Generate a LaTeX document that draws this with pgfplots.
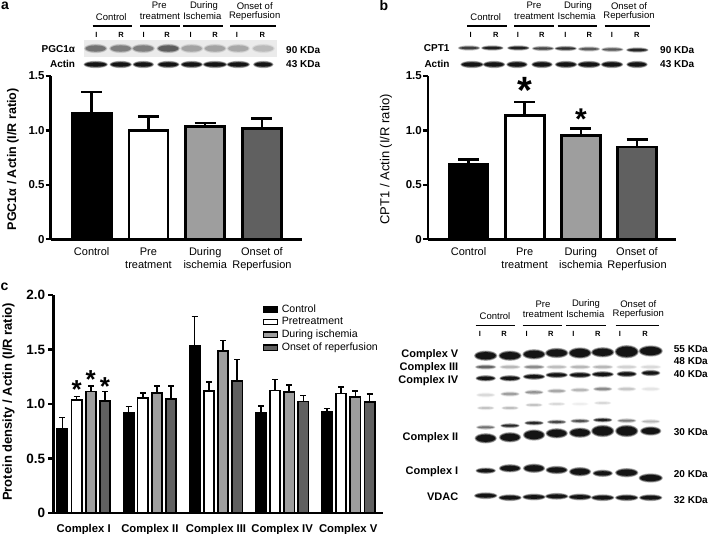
\documentclass[border=0pt]{standalone}
\usepackage{fontspec}
\setmainfont{Liberation Sans}
\usepackage{pgfplots}
\usepackage{pgfplotstable}
\pgfplotsset{compat=1.18}

\definecolor{midgray}{HTML}{9E9E9E}
\definecolor{darkgray}{HTML}{606060}

\newcommand{\fs}[1]{\fontsize{#1}{#1}\selectfont}

% blurred western blot band: x, y, width, height, darkness
\newcommand{\band}[5]{%
  \pgfmathsetmacro{\opA}{.28*#5}\pgfmathsetmacro{\opB}{.45*#5}\pgfmathsetmacro{\opC}{.8*#5}%
  \fill[black,opacity=\opA] (#1,#2) ellipse [x radius=#3/2+1.2,y radius=#4/2+1.2];
  \fill[black,opacity=\opB] (#1,#2) ellipse [x radius=#3/2+.5,y radius=#4/2+.5];
  \fill[black,opacity=\opC] (#1,#2) ellipse [x radius=#3/2-.4,y radius=#4/2-.4];
}

% panel c data: group, mean, error
\pgfplotstableread{
x y e
1 0.775 0.101
2 0.915 0.062
3 1.530 0.275
4 0.915 0.067
5 0.931 0.030
}\tabctrl
\pgfplotstableread{
x y e
1 1.038 0.030
2 1.053 0.049
3 1.117 0.083
4 1.123 0.104
5 1.096 0.061
}\tabpre
\pgfplotstableread{
x y e
1 1.114 0.049
2 1.102 0.064
3 1.487 0.095
4 1.108 0.067
5 1.065 0.055
}\tabdur
\pgfplotstableread{
x y e
1 1.029 0.085
2 1.044 0.122
3 1.209 0.199
4 1.022 0.056
5 1.016 0.077
}\tabons

\pgfplotsset{
  panel/.style={
    scale only axis,
    anchor=origin,
    clip=false,
    ymin=0,
    axis x line*=bottom, axis y line*=left,
    axis line style={-, line width=2.6pt},
    tick align=outside,
    major tick length=5pt,
    y tick style={line width=2.2pt, black},
    x tick style={draw=none},
    ybar, bar shift=0pt,
    error bars/y dir=plus, error bars/y explicit,
  },
  top panel/.style={
    panel,
    height=163.3pt,
    ymax=1.5,
    xmin=0.278,
    ytick={0,0.5,1,1.5},
    yticklabels={0,0.5,1.0,1.5},
    yticklabel style={font=\bfseries\fs{11.5}, inner sep=1pt},
    xtick={1,2,3,4},
    xticklabels={Control,{Pre\\treatment},{During\\ischemia},{Onset of\\Reperfusion}},
    xticklabel style={font=\fontsize{11}{13}\selectfont, align=center},
    bar width=39pt,
    error bars/error bar style={line width=2.5pt, black},
    error bars/error mark options={rotate=90, line width=2.5pt, mark size=10.5pt, black},
  },
}

\begin{document}
\begin{tikzpicture}
\useasboundingbox (0pt,0pt) rectangle (708pt,533pt);

% panel a
\begin{axis}[top panel,
    at={(50.7pt,293.7pt)}, width=251pt, xmax=4.70,
    ylabel={\bfseries PGC1α / Actin (I/R ratio)},
    ylabel style={at={(axis description cs:-0.151,0.49)}, anchor=center, font=\fs{12.5}},
  ]
  \addplot[draw=black, line width=2.7pt, fill=black] coordinates {(1,1.158) +- (0,0.195)};
  \addplot[draw=black, line width=2.7pt, fill=white] coordinates {(2,0.998) +- (0,0.130)};
  \addplot[draw=black, line width=2.7pt, fill=midgray] coordinates {(3,1.035) +- (0,0.033)};
  \addplot[draw=black, line width=2.7pt, fill=darkgray] coordinates {(4,1.018) +- (0,0.090)};
\end{axis}

% panel b
\begin{axis}[top panel,
    at={(428pt,293.7pt)}, width=248.3pt, xmax=4.70,
    ylabel={CPT1 / Actin (I/R ratio)},
    ylabel style={at={(axis description cs:-0.169,0.49)}, anchor=center, font=\fs{13}},
  ]
  \addplot[draw=black, line width=2.7pt, fill=black] coordinates {(1,0.688) +- (0,0.044)};
  \addplot[draw=black, line width=2.7pt, fill=white] coordinates {(2,1.138) +- (0,0.123)};
  \addplot[draw=black, line width=2.7pt, fill=midgray] coordinates {(3,0.955) +- (0,0.063)};
  \addplot[draw=black, line width=2.7pt, fill=darkgray] coordinates {(4,0.848) +- (0,0.070)};
  \node[font=\bfseries\fs{38}] at (axis cs:2,1.363) {*};
  \node[font=\bfseries\fs{30}] at (axis cs:3,1.104) {*};
\end{axis}

% panel c
\begin{axis}[panel,
    at={(53.3pt,20pt)}, width=330pt, height=218pt,
    ymax=2, xmin=0.54, xmax=5.53,
    ytick={0,0.5,1,1.5,2},
    yticklabels={0,0.5,1.0,1.5,2.0},
    yticklabel style={font=\bfseries\fs{13.5}, inner sep=1pt, xshift=-2pt},
    xtick={1,2,3,4,5},
    xticklabels={Complex I,Complex II,Complex III,Complex IV,Complex V},
    xticklabel style={font=\bfseries\fs{11.3}, inner sep=1pt, yshift=-4.8pt},
    ylabel={\bfseries Protein density / Actin (I/R ratio)},
    ylabel style={at={(axis description cs:-0.136,0.51)}, anchor=center, font=\fs{13}},
    bar width=10.3pt,
    error bars/error bar style={line width=1.6pt, black},
    error bars/error mark options={rotate=90, line width=1.5pt, mark size=3pt, black},
    legend style={draw=none, fill=none, at={(0.629,0.975)}, anchor=north west,
      font=\fs{10.6}, row sep=-0.2pt, inner sep=2pt, column sep=1.5pt},
    legend cell align=left,
    legend image code/.code={\draw[#1,draw=black,line width=1.2pt] (0pt,-2.8pt) rectangle (14pt,2.8pt);},
  ]
  \addplot[draw=black, line width=1.7pt, fill=black, bar shift=-21.3pt] table[x=x,y=y,y error=e] {\tabctrl};
  \addlegendentry{Control}
  \addplot[draw=black, line width=1.7pt, fill=white, bar shift=-7.1pt] table[x=x,y=y,y error=e] {\tabpre};
  \addlegendentry{Pretreatment}
  \addplot[draw=black, line width=1.7pt, fill=midgray, bar shift=7.1pt] table[x=x,y=y,y error=e] {\tabdur};
  \addlegendentry{During ischemia}
  \addplot[draw=black, line width=1.7pt, fill=darkgray, bar shift=21.3pt] table[x=x,y=y,y error=e] {\tabons};
  \addlegendentry{Onset of reperfusion}
  \node[font=\bfseries\fs{26}] at (axis cs:0.893,1.13) {*};
  \node[font=\bfseries\fs{26}] at (axis cs:1.107,1.22) {*};
  \node[font=\bfseries\fs{26}] at (axis cs:1.322,1.157) {*};
\end{axis}

% everything below is placed in pixels from the top left corner
\begin{scope}[x=1pt,y=-1pt,shift={(0pt,533pt)}]
  \node[font=\bfseries\fs{14}] at (5,6) {a};
  \node[font=\bfseries\fs{14}] at (384,6) {b};
  \node[font=\bfseries\fs{14}] at (4.5,287) {c};

  % blot a
  \node[font=\fs{9.5}] at (111.3,16.7) {Control};
  \node[font=\fs{9.5}] at (159.3,5.7) {Pre};
  \node[font=\fs{9.5}] at (160,16) {treatment};
  \node[font=\fs{9.5}] at (204,5.7) {During};
  \node[font=\fs{9.5}] at (202.3,16) {Ischemia};
  \node[font=\fs{9.5}] at (254.7,5.7) {Onset of};
  \node[font=\fs{9.5}] at (254.7,16) {Reperfusion};
  \foreach \a/\b in {92.7/132.3,140/180,183.3/222.7,230/276}
    {\draw[line width=1.5pt] (\a,26) -- (\b,26);}
  \foreach \x/\t in {96.3/I,121/R,143.7/I,167/R,190.7/I,215/R,237/I,262.3/R}
    {\node[font=\bfseries\fs{7.5}] at (\x,35) {\t};}
  \node[anchor=east,inner sep=0pt,font=\bfseries\fs{10}] at (75.3,49) {PGC1α};
  \node[anchor=east,inner sep=0pt,font=\bfseries\fs{10}] at (75.3,63.5) {Actin};
  \node[anchor=west,inner sep=0pt,font=\bfseries\fs{10}] at (286,50.3) {90 KDa};
  \node[anchor=west,inner sep=0pt,font=\bfseries\fs{10}] at (286,64) {43 KDa};
  \fill[black!8] (84,40) rectangle (277,57);
  \foreach \x/\g in {95.7/.4,120.7/.35,143.3/.35,168.3/.5,191.7/.22,215/.22,238.3/.2,263.3/.14}
    {\band{\x}{48.5}{21}{7}{\g}}
  \foreach \x/\w in {95.7/22,120.7/20,143.3/19,168.3/20,191.7/20,215/22,238.3/21,263.3/18}
    {\band{\x}{64.5}{\w}{5}{1}}

  % blot b
  \node[font=\fs{9.5}] at (485.7,16.7) {Control};
  \node[font=\fs{9.5}] at (534,5.7) {Pre};
  \node[font=\fs{9.5}] at (534.3,16) {treatment};
  \node[font=\fs{9.5}] at (578,5.7) {During};
  \node[font=\fs{9.5}] at (576.7,16) {Ischemia};
  \node[font=\fs{9.5}] at (629,5.7) {Onset of};
  \node[font=\fs{9.5}] at (629,16) {Reperfusion};
  \foreach \a/\b in {467.3/506.7,514/554,557.7/596.7,604.7/650}
    {\draw[line width=1.5pt] (\a,26) -- (\b,26);}
  \foreach \x/\t in {470.7/I,495.7/R,518/I,541.7/R,565.3/I,589.3/R,612/I,636.7/R}
    {\node[font=\bfseries\fs{7.5}] at (\x,35) {\t};}
  \node[anchor=east,inner sep=0pt,font=\bfseries\fs{10}] at (449.7,48.5) {CPT1};
  \node[anchor=east,inner sep=0pt,font=\bfseries\fs{10}] at (449.7,63.5) {Actin};
  \node[anchor=west,inner sep=0pt,font=\bfseries\fs{10}] at (660,50) {90 KDa};
  \node[anchor=west,inner sep=0pt,font=\bfseries\fs{10}] at (660,64.3) {43 KDa};
  \foreach \x/\y/\g in {469/48/.7,492.3/48/.9,518.3/48/.9,543/48.5/.65,565.7/48.5/.8,589/49/.55,612.3/49.5/.55,637.3/50/.85}
    {\band{\x}{\y}{20}{3}{\g}}
  \foreach \x/\w in {472/21,494/20,517/19,542/19,566/20,589/21,612/20,637/19}
    {\band{\x}{64.5}{\w}{5}{1}}

  % blot c
  \node[font=\fs{9.5}] at (495,315.7) {Control};
  \node[font=\fs{9.5}] at (543,304.3) {Pre};
  \node[font=\fs{9.5}] at (543,314.3) {treatment};
  \node[font=\fs{9.5}] at (586,304.3) {During};
  \node[font=\fs{9.5}] at (585.3,314.3) {Ischemia};
  \node[font=\fs{9.5}] at (638.3,304.3) {Onset of};
  \node[font=\fs{9.5}] at (638.3,314.3) {Reperfusion};
  \foreach \a/\b in {475.7/515,522.7/562.3,566/605.7,615.7/659.3}
    {\draw[line width=1.5pt] (\a,325.7) -- (\b,325.7);}
  \foreach \x/\t in {480/I,504/R,526.7/I,550.7/R,573.3/I,597.7/R,620/I,645/R}
    {\node[font=\bfseries\fs{7.5}] at (\x,334) {\t};}
  \foreach \y/\t in {355/Complex V,367.7/Complex III,380.3/Complex IV,437.7/Complex II,471.7/Complex I,497/VDAC}
    {\node[anchor=east,inner sep=0pt,font=\bfseries\fs{11}] at (458.5,\y) {\t};}
  \foreach \y/\t in {349/55,361.3/48,374.3/40,431.7/30,473.7/20,500/32}
    {\node[anchor=west,inner sep=0pt,font=\bfseries\fs{10}] at (673.7,\y) {\t{} KDa};}

  % complex V
  \foreach \x/\y/\w/\h in {485.7/355.7/21/8,510/355.7/21/8,534/354.3/21/8,556.7/353/21/8,580/353/21/9,602.7/352.3/21/8,626.7/351.7/22/11,650.7/351/22/9}
    {\band{\x}{\y}{\w}{\h}{1}}
  % complex III
  \foreach \x/\g in {485.7/.5,510/.2,534/.35,556.7/.18,580/.2,602.7/.2,626.7/.12,650.7/.1}
    {\band{\x}{367}{19}{3}{\g}}
  % complex IV
  \foreach \x/\y/\w in {485.7/378.3/18,510/378.3/19,534/376.7/20,556.7/375/20,580/375/20,602.7/374.3/20,626.7/374/18,650.7/373/17}
    {\band{\x}{\y}{\w}{4}{1}}
  % faint middle bands
  \foreach \x/\y/\g in {485.7/395/.1,510/394/.28,534/392.3/.32,556.7/391/.25,580/390/.2,602.7/389/.35,626.7/389/.15,650.7/389/.07}
    {\band{\x}{\y}{17}{3}{\g}}
  \foreach \x/\y/\g in {485.7/408/.2,510/408/.22,534/405/.2,556.7/404/.12,580/404/.05,602.7/403/.12}
    {\band{\x}{\y}{15}{2}{\g}}
  \foreach \x/\y/\g in {485.7/427.3/.45,510/425.7/.85,534/423/.85,556.7/422/.65,580/421/.6,602.7/420/.9,626.7/420.7/.4,650.7/421.5/.2}
    {\band{\x}{\y}{17}{2.6}{\g}}
  % complex II
  \foreach \x/\y/\w/\h in {485.7/438.3/20/8,510/437.3/20/8,534/435/20/9,556.7/433.3/20/8,580/432.7/20/8,602.7/431/21/10,626.7/431/21/10,650.7/431/19/7}
    {\band{\x}{\y}{\w}{\h}{1}}
  % complex I
  \foreach \x/\y/\w/\h in {485.7/470.7/18/4,510/468.3/20/6,534/468.3/20/7,556.7/470/20/6,580/471.7/20/7,602.7/473.3/18/5,626.7/472.7/21/7,650.7/478/22/7}
    {\band{\x}{\y}{\w}{\h}{1}}
  % VDAC
  \foreach \x/\y in {485.7/495.7,510/497.7,534/497,556.7/496.3,580/497,602.7/497.7,626.7/497.7,650.7/497.7}
    {\band{\x}{\y}{21}{4.5}{1}}
\end{scope}
\end{tikzpicture}
\end{document}
